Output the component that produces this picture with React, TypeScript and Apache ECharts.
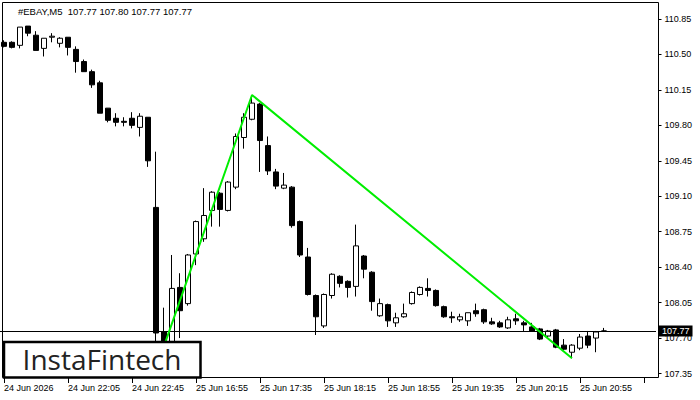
import React, { useEffect, useRef } from "react";
import * as echarts from "echarts";

const symbolTitle = "#EBAY,M5  107.77 107.80 107.77 107.77";
const firstLabel = "24 Jun 2026";

const times = [
  "24 Jun 21:25", "24 Jun 21:30", "24 Jun 21:35", "24 Jun 21:40", "24 Jun 21:45", "24 Jun 21:50", "24 Jun 21:55", "24 Jun 22:00",
  "24 Jun 22:05", "24 Jun 22:10", "24 Jun 22:15", "24 Jun 22:20", "24 Jun 22:25", "24 Jun 22:30", "24 Jun 22:35", "24 Jun 22:40",
  "24 Jun 22:45", "24 Jun 22:50", "24 Jun 22:55", "25 Jun 16:30", "25 Jun 16:35", "25 Jun 16:40", "25 Jun 16:45", "25 Jun 16:50",
  "25 Jun 16:55", "25 Jun 17:00", "25 Jun 17:05", "25 Jun 17:10", "25 Jun 17:15", "25 Jun 17:20", "25 Jun 17:25", "25 Jun 17:30",
  "25 Jun 17:35", "25 Jun 17:40", "25 Jun 17:45", "25 Jun 17:50", "25 Jun 17:55", "25 Jun 18:00", "25 Jun 18:05", "25 Jun 18:10",
  "25 Jun 18:15", "25 Jun 18:20", "25 Jun 18:25", "25 Jun 18:30", "25 Jun 18:35", "25 Jun 18:40", "25 Jun 18:45", "25 Jun 18:50",
  "25 Jun 18:55", "25 Jun 19:00", "25 Jun 19:05", "25 Jun 19:10", "25 Jun 19:15", "25 Jun 19:20", "25 Jun 19:25", "25 Jun 19:30",
  "25 Jun 19:35", "25 Jun 19:40", "25 Jun 19:45", "25 Jun 19:50", "25 Jun 19:55", "25 Jun 20:00", "25 Jun 20:05", "25 Jun 20:10",
  "25 Jun 20:15", "25 Jun 20:20", "25 Jun 20:25", "25 Jun 20:30", "25 Jun 20:35", "25 Jun 20:40", "25 Jun 20:45", "25 Jun 20:50",
  "25 Jun 20:55", "25 Jun 21:00", "25 Jun 21:05", "25 Jun 21:10",
];
// empty slots on the right (chart shift)
const emptySlots = ["", "", "", "", "", ""];

const opens = [
  110.62, 110.62, 110.59, 110.78, 110.69, 110.56, 110.67, 110.61, 110.67, 110.55,
  110.43, 110.33, 110.22, 109.97, 109.87, 109.84, 109.87, 109.78, 109.88, 108.99,
  107.76, 107.63, 108.20, 108.04, 108.53, 108.68, 108.96, 109.13, 108.96, 109.19,
  109.68, 109.86, 110.01, 109.60, 109.34, 109.18, 109.19, 108.85, 108.50, 108.12,
  107.82, 108.12, 108.31, 108.26, 108.21, 108.51, 108.35, 107.92, 108.03, 107.85,
  107.91, 108.04, 108.13, 108.19, 108.17, 108.01, 107.91, 107.88, 107.87, 107.97,
  107.98, 107.86, 107.85, 107.80, 107.89, 107.85, 107.81, 107.79, 107.72, 107.78,
  107.63, 107.56, 107.60, 107.72, 107.70, 107.77,
];
const closes = [
  110.58, 110.57, 110.77, 110.71, 110.54, 110.66, 110.68, 110.66, 110.57, 110.43,
  110.33, 110.20, 109.92, 109.85, 109.83, 109.83, 109.80, 109.89, 109.45, 107.75,
  107.66, 108.19, 107.97, 108.52, 108.85, 108.91, 109.14, 108.97, 109.24, 109.69,
  109.88, 110.02, 109.65, 109.35, 109.20, 109.21, 108.81, 108.52, 108.13, 107.91,
  108.13, 108.33, 108.24, 108.20, 108.61, 108.38, 108.06, 108.04, 107.87, 107.90,
  107.94, 108.15, 108.20, 108.17, 108.02, 107.91, 107.90, 107.91, 107.95, 107.94,
  107.86, 107.84, 107.81, 107.88, 107.87, 107.83, 107.77, 107.69, 107.77, 107.61,
  107.59, 107.63, 107.71, 107.63, 107.76, 107.77,
];
const highs = [
  110.64, 110.63, 110.77, 110.78, 110.73, 110.66, 110.71, 110.67, 110.67, 110.58,
  110.45, 110.35, 110.24, 109.97, 109.92, 109.88, 109.93, 109.92, 109.88, 109.54,
  108.00, 108.52, 108.34, 108.53, 108.86, 109.18, 109.15, 109.14, 109.25, 109.72,
  109.92, 110.10, 110.02, 109.69, 109.37, 109.33, 109.20, 108.86, 108.59, 108.13,
  108.14, 108.34, 108.32, 108.27, 108.82, 108.52, 108.36, 108.09, 108.04, 107.95,
  108.04, 108.16, 108.21, 108.29, 108.18, 108.02, 107.96, 107.94, 107.95, 108.04,
  107.99, 107.90, 107.87, 107.91, 107.94, 107.87, 107.85, 107.80, 107.78, 107.79,
  107.69, 107.64, 107.74, 107.77, 107.77, 107.80,
];
const lows = [
  110.57, 110.56, 110.56, 110.68, 110.54, 110.48, 110.62, 110.57, 110.49, 110.32,
  110.33, 110.17, 109.92, 109.83, 109.79, 109.79, 109.77, 109.69, 109.39, 107.50,
  107.62, 107.60, 107.70, 108.02, 108.42, 108.65, 108.80, 108.80, 108.95, 109.17,
  109.57, 109.85, 109.34, 109.31, 109.17, 109.17, 108.79, 108.50, 108.12, 107.73,
  107.80, 108.09, 108.20, 108.10, 108.11, 108.29, 107.97, 107.91, 107.81, 107.81,
  107.90, 108.03, 108.12, 108.11, 108.01, 107.90, 107.85, 107.86, 107.82, 107.91,
  107.84, 107.83, 107.80, 107.79, 107.83, 107.77, 107.76, 107.68, 107.71, 107.60,
  107.58, 107.50, 107.58, 107.60, 107.56, 107.77,
];

// pattern (green lines): bar index and price
const patternIdx = [20, 31, 71];
const patternPrice = [107.62, 110.10, 107.5];

const lastPrice = 107.77;
const yMin = 107.35;
const yMax = 111.008;
const yStep = 0.35;

const FONT = "'Liberation Sans', Arial, sans-serif";

export default function App() {
  const ref = useRef<HTMLDivElement>(null);

  useEffect(() => {
    if (!ref.current) return;
    const chart = echarts.init(ref.current, null, { renderer: "svg" });
    const categories = [...times, ...emptySlots];
    const candleData = opens.map((o, i) => [o, closes[i], lows[i], highs[i]]);
    const patternData = patternIdx.map((x, i) => [x, patternPrice[i]]);

    const option: any = {
      animation: false,
      backgroundColor: "#ffffff",
      grid: { left: 0, width: 656, top: 3, bottom: 26.5, containLabel: false },
      xAxis: {
        type: "category",
        data: categories,
        boundaryGap: true,
        offset: 4.5,
        axisLine: { show: false },
        axisTick: {
          show: true,
          interval: 7,
          alignWithLabel: true,
          length: 5,
          lineStyle: { color: "#000", width: 1 },
        },
        axisLabel: {
          interval: 7,
          align: "left",
          margin: 5,
          fontSize: 9,
          color: "#000",
          fontFamily: FONT,
          formatter: (v: string, idx: number) => (idx === 0 ? firstLabel : v),
        },
        splitLine: { show: false },
      },
      yAxis: {
        type: "value",
        position: "right",
        min: yMin,
        max: yMax,
        interval: yStep,
        offset: 2.5,
        axisLine: { show: false },
        axisTick: { show: true, length: 3, lineStyle: { color: "#000", width: 1 } },
        axisLabel: {
          showMaxLabel: false,
          showMinLabel: true,
          margin: 6,
          fontSize: 9,
          color: "#000",
          fontFamily: FONT,
          formatter: (v: number) => v.toFixed(2),
        },
        splitLine: { show: false },
      },
      series: [
        {
          type: "candlestick",
          data: candleData,
          barWidth: 5,
          itemStyle: {
            color: "#ffffff",
            color0: "#000000",
            borderColor: "#000000",
            borderColor0: "#000000",
            borderWidth: 1,
          },
          markLine: {
            silent: true,
            symbol: ["none", "none"],
            lineStyle: { color: "#000", width: 1, type: "solid" },
            label: {
              show: true,
              position: "end",
              distance: 3,
              formatter: lastPrice.toFixed(2),
              backgroundColor: "#000",
              color: "#fff",
              fontSize: 9,
              fontFamily: FONT,
              padding: [1, 3, 1, 3],
            },
            data: [{ yAxis: lastPrice }],
          },
        },
        {
          type: "line",
          data: patternData,
          symbol: "none",
          z: 5,
          lineStyle: { color: "#00ee00", width: 2 },
        },
      ],
      graphic: [
        {
          type: "rect",
          z: 50,
          shape: { x: 2.5, y: 2.5, width: 656, height: 375 },
          style: { fill: "none", stroke: "#000", lineWidth: 1 },
          silent: true,
        },
        {
          type: "text",
          z: 50,
          x: 18,
          y: 11,
          style: {
            text: symbolTitle,
            fontSize: 9.5,
            fontFamily: FONT,
            fill: "#000",
            verticalAlign: "middle",
          },
        },
        {
          type: "rect",
          z: 60,
          shape: { x: 4, y: 342, width: 196.5, height: 35.5 },
          style: { fill: "#fff", stroke: "#000", lineWidth: 2.5 },
        },
        {
          type: "text",
          z: 61,
          x: 102,
          y: 359,
          style: {
            text: "InstaFintech",
            fontSize: 28,
            fontFamily: "'Open Sans', sans-serif",
            fill: "#222",
            align: "center",
            verticalAlign: "middle",
          },
        },
      ],
    };
    chart.setOption(option);
    return () => chart.dispose();
  }, []);

  return (
    <div
      ref={ref}
      style={{ position: "fixed", left: 0, top: 0, width: 700, height: 400, background: "#fff" }}
    />
  );
}
